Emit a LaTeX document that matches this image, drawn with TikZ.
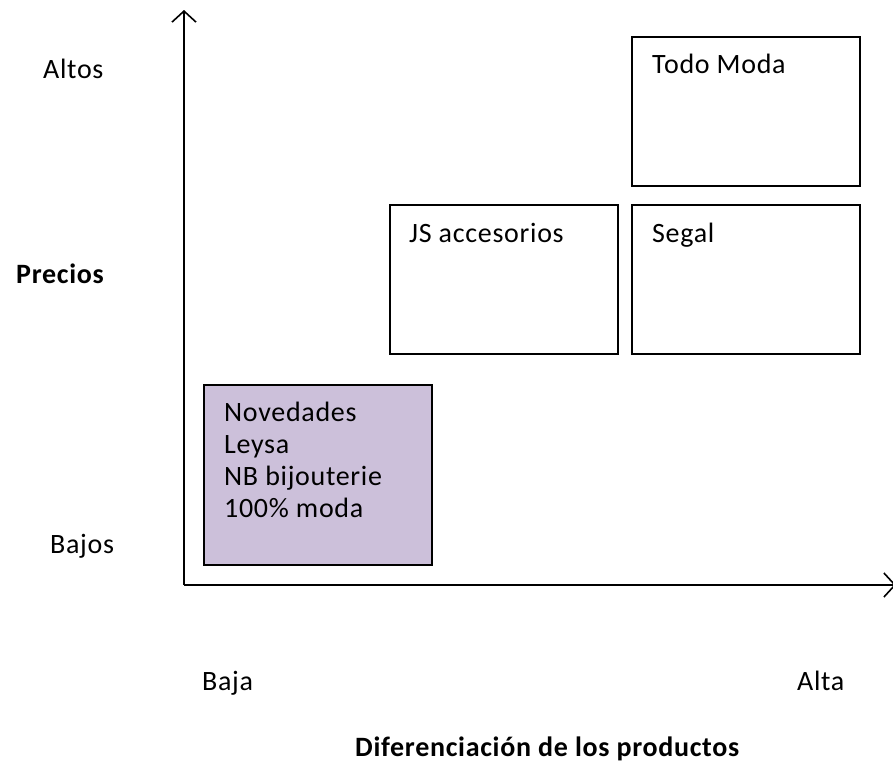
\documentclass[tikz,border=0pt]{standalone}
\usepackage{fontspec}
\setmainfont{Carlito}[LetterSpace=2.5]
\usetikzlibrary{arrows.meta}
\definecolor{lila}{RGB}{204,192,218}

\begin{document}
\begin{tikzpicture}[x=1pt, y=-1pt,
    every node/.style={font=\fontsize{28}{32}\selectfont},
    axis/.style={line width=1.6pt, -{Straight Barb[length=11pt, width=24pt, line width=1.6pt]}},
    box/.style={draw, line width=1.4pt, minimum width=228pt, minimum height=149pt, inner sep=0pt},
    txt/.style={anchor=base west, inner sep=0pt}]
    \useasboundingbox (0,0) rectangle (893,769);

    \coordinate (o) at (184,585);
    \coordinate (ytop) at (184,10);
    \coordinate (xend) at (896,585);

    \node (todo) [box] at (746,111.5) {};
    \node (js) [box] at (504,279.5) {};
    \node (segal) [box] at (746,279.5) {};
    \node (nov) [box, fill=lila, minimum height=180pt] at (318,475) {};

    \node (todot) [txt] at (652,73) {Todo Moda};
    \node (jst) [txt] at (409,242) {JS accesorios};
    \node (segalt) [txt] at (652,242) {Segal};
    \foreach \t [count=\i] in {Novedades, Leysa, NB bijouterie, 100\% moda}
        \node (nov\i) [txt] at (224,{389+32*\i}) {\t};

    \node (altos) [txt] at (43,78) {Altos};
    \node (precios) [txt, font=\fontsize{28}{32}\selectfont\bfseries] at (16,283) {Precios};
    \node (bajos) [txt] at (50,553) {Bajos};
    \node (baja) [txt] at (202,690) {Baja};
    \node (alta) [txt] at (797,690) {Alta};
    \node (dif) [txt, font=\fontsize{28}{32}\selectfont\bfseries] at (355,756) {Diferenciación de los productos};

    \draw[axis] (o) -- (ytop);
    \draw[axis] (o) -- (xend);
\end{tikzpicture}
\end{document}
